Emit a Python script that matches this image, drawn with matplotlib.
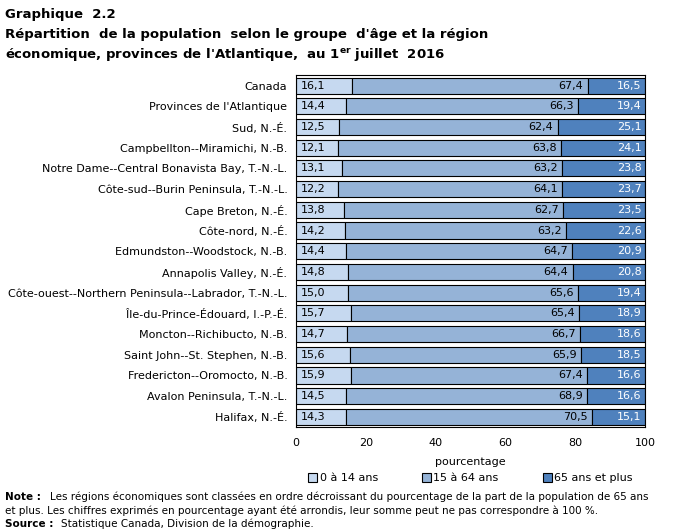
import numpy as np
import matplotlib.pyplot as plt

regions = [
    "Canada",
    "Provinces de l'Atlantique",
    "Sud, N.-É.",
    "Campbellton--Miramichi, N.-B.",
    "Notre Dame--Central Bonavista Bay, T.-N.-L.",
    "Côte-sud--Burin Peninsula, T.-N.-L.",
    "Cape Breton, N.-É.",
    "Côte-nord, N.-É.",
    "Edmundston--Woodstock, N.-B.",
    "Annapolis Valley, N.-É.",
    "Côte-ouest--Northern Peninsula--Labrador, T.-N.-L.",
    "Île-du-Prince-Édouard, I.-P.-É.",
    "Moncton--Richibucto, N.-B.",
    "Saint John--St. Stephen, N.-B.",
    "Fredericton--Oromocto, N.-B.",
    "Avalon Peninsula, T.-N.-L.",
    "Halifax, N.-É.",
]
age_0_14 = [16.1, 14.4, 12.5, 12.1, 13.1, 12.2, 13.8, 14.2, 14.4, 14.8, 15.0, 15.7, 14.7, 15.6, 15.9, 14.5, 14.3]
age_15_64 = [67.4, 66.3, 62.4, 63.8, 63.2, 64.1, 62.7, 63.2, 64.7, 64.4, 65.6, 65.4, 66.7, 65.9, 67.4, 68.9, 70.5]
age_65 = [16.5, 19.4, 25.1, 24.1, 23.8, 23.7, 23.5, 22.6, 20.9, 20.8, 19.4, 18.9, 18.6, 18.5, 16.6, 16.6, 15.1]
series_labels = ["0 à 14 ans", "15 à 64 ans", "65 ans et plus"]

colors = ["#c6d9f0", "#95b3d7", "#4f81bd"]

def fmt(v):
    return f"{v:.1f}".replace(".", ",")

fig = plt.figure(figsize=(6.8, 5.3), dpi=100)
ax = fig.add_axes([0.435, 0.194, 0.514, 0.664])

y = np.arange(len(regions))
a = np.array(age_0_14)
b = np.array(age_15_64)
c = np.array(age_65)
h = 0.78
ax.barh(y, a, h, color=colors[0], edgecolor="black", linewidth=0.8, label=series_labels[0])
ax.barh(y, b, h, left=a, color=colors[1], edgecolor="black", linewidth=0.8, label=series_labels[1])
ax.barh(y, c, h, left=a + b, color=colors[2], edgecolor="black", linewidth=0.8, label=series_labels[2])

for i in range(len(regions)):
    ax.text(1.5, y[i], fmt(a[i]), va="center", ha="left", fontsize=8)
    ax.text(a[i] + b[i] - 1.2, y[i], fmt(b[i]), va="center", ha="right", fontsize=8)
    ax.text(99, y[i], fmt(c[i]), va="center", ha="right", fontsize=8, color="white")

ax.set_xlim(0, 100)
ax.set_ylim(len(regions) - 0.5, -0.5)
ax.set_yticks(y)
ax.set_yticklabels(regions, fontsize=7.5)
ax.set_xticks([0, 20, 40, 60, 80, 100])
ax.tick_params(axis="both", length=0, labelsize=8)
ax.tick_params(axis="y", pad=6)
ax.tick_params(axis="x", pad=8)
ax.set_xlabel("pourcentage", fontsize=8, labelpad=6)
for s in ax.spines.values():
    s.set_linewidth(0.8)

ax.legend(loc="upper center", bbox_to_anchor=(0.5, -0.118), ncol=3, frameon=False,
          fontsize=8, handlelength=0.8, handleheight=0.8, columnspacing=4, handletextpad=0.2,
          borderaxespad=0)

fig.text(0.008, 0.985, "Graphique  2.2", fontsize=9.5, fontweight="bold", va="top")
fig.text(0.008, 0.948, "Répartition  de la population  selon le groupe  d'âge et la région", fontsize=9.5,
         fontweight="bold", va="top")
fig.text(0.008, 0.912, "économique, provinces de l'Atlantique,  au 1$^{\\mathbf{er}}$ juillet  2016", fontsize=9.5,
         fontweight="bold", va="top")

fig.text(0.008, 0.062, "Note :", fontsize=7.5, fontweight="bold", va="center")
fig.text(0.074, 0.062, "Les régions économiques sont classées en ordre décroissant du pourcentage de la part de la population de 65 ans",
         fontsize=7.5, va="center")
fig.text(0.008, 0.036, "et plus. Les chiffres exprimés en pourcentage ayant été arrondis, leur somme peut ne pas correspondre à 100 %.",
         fontsize=7.5, va="center")
fig.text(0.008, 0.011, "Source :", fontsize=7.5, fontweight="bold", va="center")
fig.text(0.09, 0.011, "Statistique Canada, Division de la démographie.", fontsize=7.5, va="center")

fig.savefig("out.png", dpi=100)
